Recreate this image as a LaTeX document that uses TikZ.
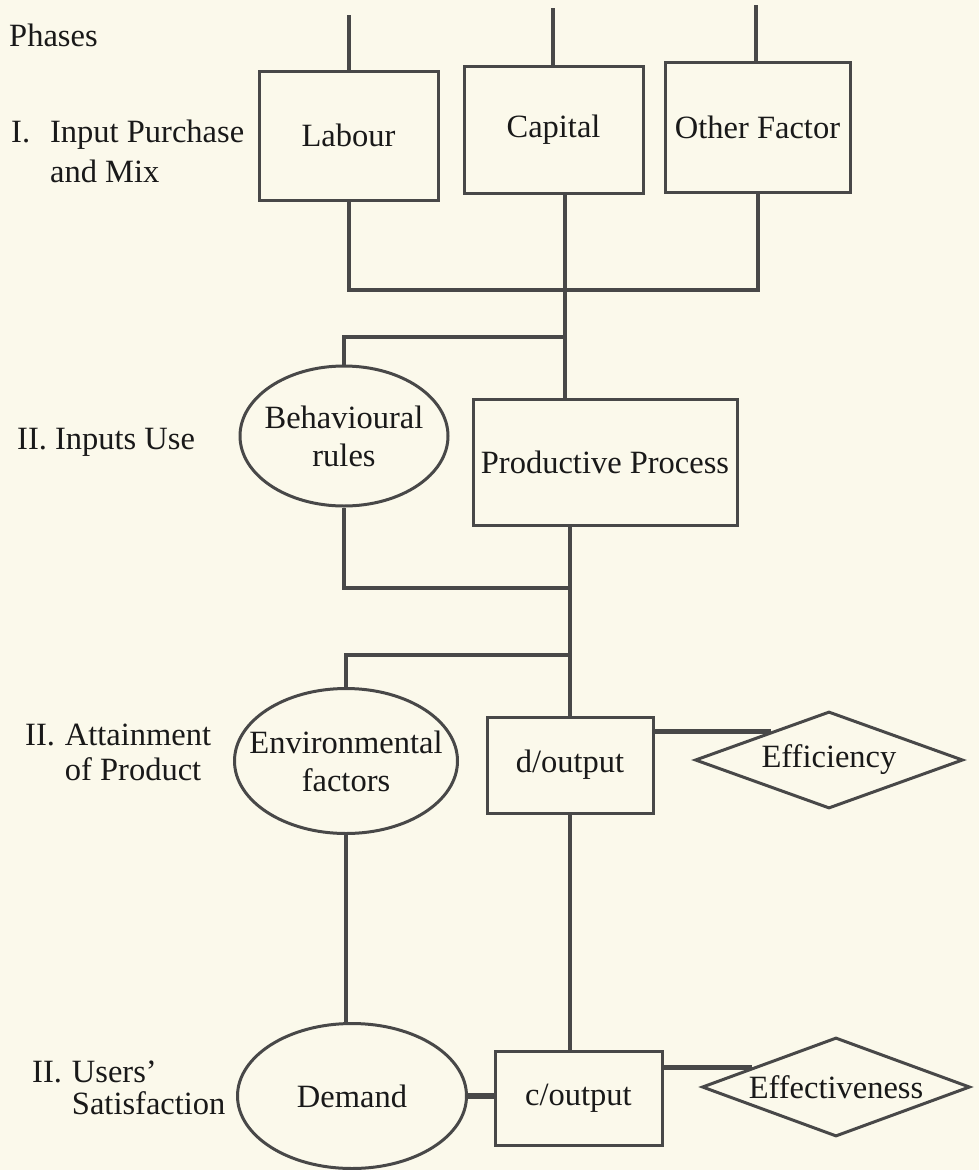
\documentclass[tikz,border=0pt]{standalone}
\usepackage{fontspec}
\setmainfont{Liberation Serif}
\usetikzlibrary{shapes.geometric}
\definecolor{paper}{RGB}{251,249,235}
\definecolor{ink}{RGB}{25,25,25}
\definecolor{wire}{RGB}{72,72,72}
\begin{document}
\begin{tikzpicture}[x=1pt,y=-1pt,
  every node/.style={font=\fontsize{32.5}{38}\selectfont, text=ink},
  box/.style={draw=wire, line width=3pt, rectangle, inner sep=0pt, align=center},
  oval/.style={draw=wire, line width=3pt, ellipse, inner sep=-40pt, align=center},
  gem/.style={draw=wire, line width=3pt, diamond, inner sep=-40pt, align=center},
  link/.style={draw=wire, line width=4pt},
  boldlink/.style={draw=wire, line width=5.5pt},
  lbl/.style={anchor=west, inner sep=0pt, align=left}]
\fill[paper] (0,0) rectangle (979,1170);
\useasboundingbox (0,0) rectangle (979,1170);

% phase labels
\node[lbl] (phases) at (9,35) {Phases};
\node[lbl] (ph1) at (11,155) {\begin{tabular}{@{}l@{\hspace{20pt}}l@{}}I. & Input Purchase\\[2pt] & and Mix\end{tabular}};
\node[lbl] (ph2) at (17,442) {II. Inputs Use};
\node[lbl] (ph3) at (25,755) {\begin{tabular}{@{}l@{\hspace{10pt}}l@{}}II. & Attainment\\[-3pt] & of Product\end{tabular}};
\node[lbl] (ph4) at (32,1091) {\begin{tabular}{@{}l@{\hspace{10pt}}l@{}}II. & Users'\\[-6pt] & Satisfaction\end{tabular}};

% phase I
\node[box, minimum width=179pt, minimum height=129pt] (labour) at (348.5,135.5) {Labour};
\node[box, minimum width=179pt, minimum height=127pt] (capital) at (553.5,129.5) {Capital};
\node[box, minimum width=185pt, minimum height=130pt] (other) at (757.5,127) {Other Factor};

% phase II
\node[oval, minimum width=208pt, minimum height=140pt] (beh) at (344,436) {Behavioural\\rules};
\node[box, minimum width=264pt, minimum height=126pt] (pp) at (605,462) {Productive Process};

% phase III
\node[oval, minimum width=223pt, minimum height=145pt] (env) at (346,761) {Environmental\\factors};
\node[box, minimum width=166pt, minimum height=96pt] (dout) at (570,765) {d/output};
\node[gem, minimum width=268pt, minimum height=97pt] (eff) at (829,760) {Efficiency};

% phase IV
\node[oval, minimum width=229pt, minimum height=145pt] (dem) at (352,1096) {Demand};
\node[box, minimum width=167pt, minimum height=94pt] (cout) at (578.5,1098) {c/output};
\node[gem, minimum width=268pt, minimum height=99pt] (eft) at (836,1087) {Effectiveness};

% junction points
\coordinate (labtop) at (349,15);
\coordinate (captop) at (553,8);
\coordinate (othtop) at (756,5);
\coordinate (bus) at (565,290);
\coordinate (brA) at (565,337);
\coordinate (brB) at (570,588);
\coordinate (brC) at (570,655);

% connectors
\draw[link] (labtop) -- (labtop |- labour.north);
\draw[link] (captop) -- (captop |- capital.north);
\draw[link] (othtop) -- (othtop |- other.north);
\draw[link] (labour.south) |- (bus) -| (other.south);
\draw[link] (capital.south -| bus) -- (pp.north -| bus);
\draw[link] (brA) -| (beh.north);
\draw[link] (beh.south) |- (brB);
\draw[link] (pp.south -| brB) -- (dout.north -| brB);
\draw[link] (brC) -| (env.north);
\draw[link] (dout.south -| brB) -- (cout.north -| brB);
\draw[link] (env.south) -- (env.south |- dem.north);
\draw[boldlink] (dem.east) -- (dem.east -| cout.west);
\draw[boldlink] (eff.154) -- (eff.154 -| dout.east);
\draw[boldlink] (eft.167) -- (eft.167 -| cout.east);
\end{tikzpicture}
\end{document}
